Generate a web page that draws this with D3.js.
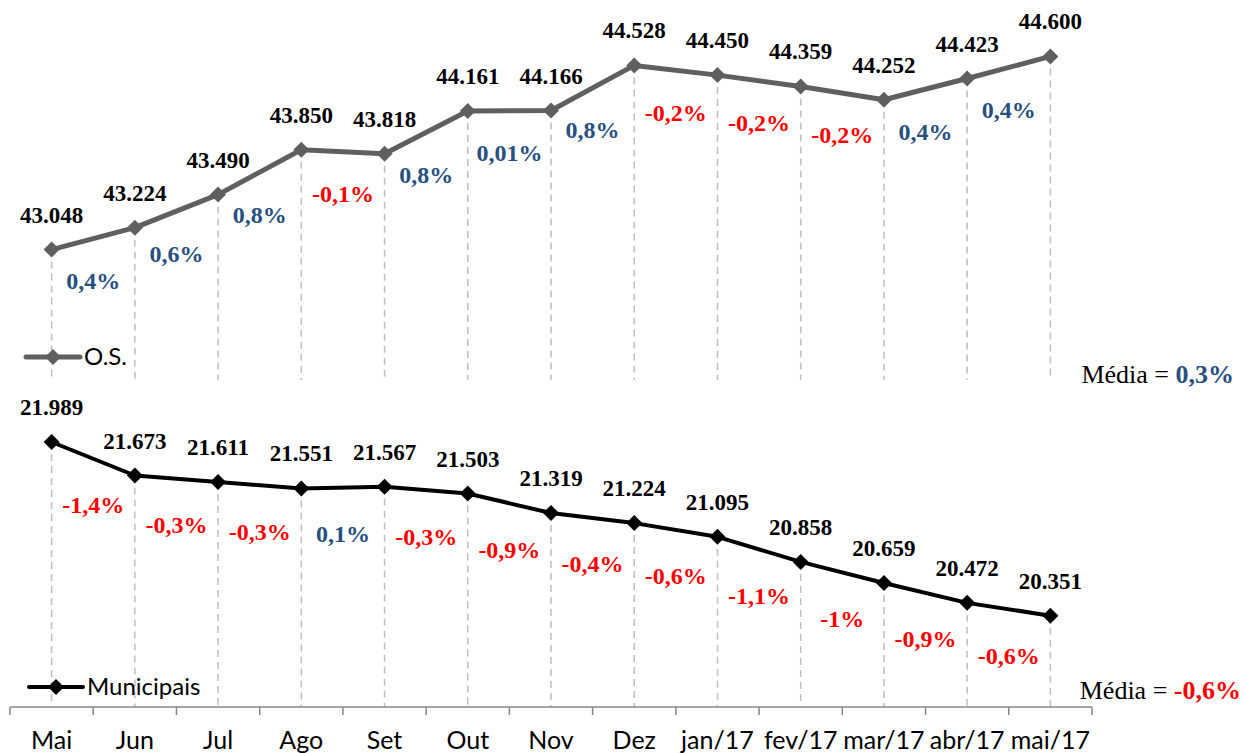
<!DOCTYPE html>
<html>
<head>
<meta charset="utf-8">
<script src="https://cdn.jsdelivr.net/npm/d3@7"></script>
<style>
html,body{margin:0;padding:0;background:#fff;}
svg{display:block;}
</style>
</head>
<body>
<svg id="chart" width="1244" height="753"></svg>
<script>
const categories = ["Mai","Jun","Jul","Ago","Set","Out","Nov","Dez","jan/17","fev/17","mar/17","abr/17","mai/17"];
const osValues = [43.048,43.224,43.490,43.850,43.818,44.161,44.166,44.528,44.450,44.359,44.252,44.423,44.600];
const osChanges = ["0,4%","0,6%","0,8%","-0,1%","0,8%","0,01%","0,8%","-0,2%","-0,2%","-0,2%","0,4%","0,4%"];
const munValues = [21.989,21.673,21.611,21.551,21.567,21.503,21.319,21.224,21.095,20.858,20.659,20.472,20.351];
const munChanges = ["-1,4%","-0,3%","-0,3%","0,1%","-0,3%","-0,9%","-0,4%","-0,6%","-1,1%","-1%","-0,9%","-0,6%"];
const seriesNames = ["O.S.","Municipais"];
const averages = ["0,3%","-0,6%"];

const svg = d3.select("#chart");
const x = d3.scaleBand().domain(categories).range([10,1092]).padding(0);
const cx = c => x(c) + x.bandwidth()/2;

const yTop = d3.scaleLinear().domain([42.0,44.7]).range([380,44]);
const yBot = d3.scaleLinear().domain([19.49,22.3]).range([707,409]);

const BLUE = "#27507f", RED = "#ff0000";
const serif = "'Liberation Serif', 'DejaVu Serif', serif";
const sans = "Lato, 'Open Sans', sans-serif";

function diamond(w,h){return `M0,${-h}L${w},0L0,${h}L${-w},0Z`;}

function panel(values, changes, y, color, lw, bottomY, name, legendY, legendX, avg, avgY, avgX, chgOff){
  const g = svg.append("g");
  g.selectAll("line.drop").data(values).enter().append("line")
    .attr("x1",(d,i)=>cx(categories[i])).attr("x2",(d,i)=>cx(categories[i]))
    .attr("y1",d=>y(d)).attr("y2",bottomY)
    .attr("stroke","#bfbfbf").attr("stroke-width",1.5).attr("stroke-dasharray","7,5");
  const line = d3.line().x((d,i)=>cx(categories[i])).y(d=>y(d));
  g.append("path").datum(values).attr("d",line).attr("fill","none")
    .attr("stroke",color).attr("stroke-width",lw).attr("stroke-linejoin","round");
  g.selectAll("path.mk").data(values).enter().append("path")
    .attr("d",diamond(8,8))
    .attr("transform",(d,i)=>`translate(${cx(categories[i])},${y(d)})`)
    .attr("fill",color);
  g.selectAll("text.val").data(values).enter().append("text")
    .attr("x",(d,i)=>cx(categories[i])).attr("y",d=>y(d)-35)
    .attr("dy","0.35em").attr("text-anchor","middle")
    .attr("font-family",serif).attr("font-weight","bold").attr("font-size",23)
    .attr("fill","#000")
    .text(d=>d3.format(".3f")(d));
  g.selectAll("text.chg").data(changes).enter().append("text")
    .attr("x",(d,i)=>x(categories[i+1]))
    .attr("y",(d,i)=>(y(values[i])+y(values[i+1]))/2 + chgOff)
    .attr("dy","0.35em").attr("text-anchor","middle")
    .attr("font-family",serif).attr("font-weight","bold").attr("font-size",24)
    .attr("fill",d=>d.startsWith("-")?RED:BLUE)
    .text(d=>d);
  const lg = g.append("g").attr("transform",`translate(${legendX},${legendY})`);
  lg.append("line").attr("x1",0).attr("x2",54).attr("y1",0).attr("y2",0)
    .attr("stroke",color).attr("stroke-width",lw).attr("stroke-linecap","round");
  lg.append("path").attr("d",diamond(8,8)).attr("transform","translate(27,0)").attr("fill",color);
  lg.append("text").attr("x",58).attr("y",0).attr("dy","0.35em")
    .attr("font-family",sans).attr("font-size",24).attr("fill","#000").text(name);
  const t = g.append("text").attr("x",avgX).attr("y",avgY).attr("dy","0.35em")
    .attr("text-anchor","end").attr("font-family",serif).attr("font-size",26).attr("fill","#000");
  t.append("tspan").text("Média = ");
  t.append("tspan").attr("font-weight","bold").attr("fill",avg.startsWith("-")?RED:BLUE).text(avg);
}

panel(osValues, osChanges, yTop, "#5f5f5f", 5, 380, seriesNames[0], 357, 26, averages[0], 374, 1234, 42);
panel(munValues, munChanges, yBot, "#000000", 4, 707, seriesNames[1], 687, 29, averages[1], 690, 1241, 46);

const ax = svg.append("g").attr("transform","translate(0,707)");
ax.append("line").attr("x1",10).attr("x2",1092).attr("y1",0).attr("y2",0).attr("stroke","#868686").attr("stroke-width",1.5);
const bounds = categories.map(c=>x(c)).concat([x(categories[categories.length-1])+x.bandwidth()]);
ax.selectAll("line.tk").data(bounds).enter().append("line")
  .attr("x1",d=>d).attr("x2",d=>d).attr("y1",0).attr("y2",8)
  .attr("stroke","#868686").attr("stroke-width",1.5);
ax.selectAll("text.cat").data(categories).enter().append("text")
  .attr("x",d=>cx(d)).attr("y",42).attr("text-anchor","middle")
  .attr("font-family",sans).attr("font-size",25).attr("fill","#000").text(d=>d);
</script>
</body>
</html>
